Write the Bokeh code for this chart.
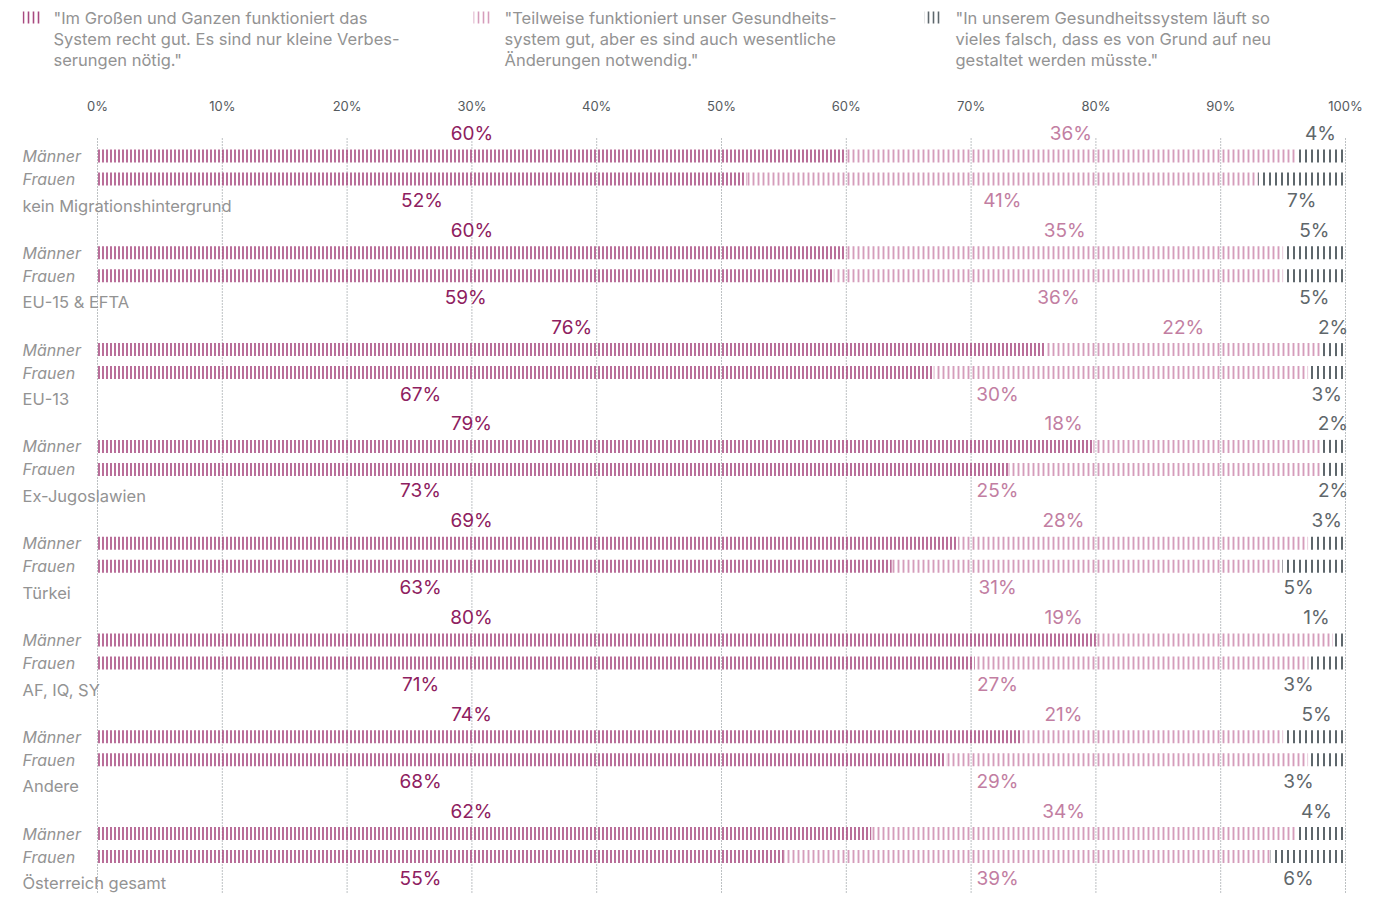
from bokeh.plotting import figure
from bokeh.models import Range1d
from bokeh.embed import file_html
from bokeh.resources import INLINE
from bokeh.core.properties import value

# ---------------- data ----------------
groups = ["kein Migrationshintergrund", "EU-15 & EFTA", "EU-13", "Ex-Jugoslawien",
          "Türkei", "AF, IQ, SY", "Andere", "Österreich gesamt"]
men_good = [60, 60, 76, 79, 69, 80, 74, 62]
men_partly = [36, 35, 22, 18, 28, 19, 21, 34]
men_bad = [4, 5, 2, 2, 3, 1, 5, 4]
women_good = [52, 59, 67, 73, 63, 71, 68, 55]
women_partly = [41, 36, 30, 25, 31, 27, 29, 39]
women_bad = [7, 5, 3, 2, 5, 3, 3, 6]
sex_labels = ["Männer", "Frauen"]
tick_values = [0, 10, 20, 30, 40, 50, 60, 70, 80, 90, 100]
tick_labels = [f"{t}%" for t in tick_values]
legend_texts = [
    ['"Im Großen und Ganzen funktioniert das',
     'System recht gut. Es sind nur kleine Verbes-',
     'serungen nötig."'],
    ['"Teilweise funktioniert unser Gesundheits-',
     'system gut, aber es sind auch wesentliche',
     'Änderungen notwendig."'],
    ['"In unserem Gesundheitssystem läuft so',
     'vieles falsch, dass es von Grund auf neu',
     'gestaltet werden müsste."'],
]

# ---------------- style / layout ----------------
FONT = value("Inter")
HATCH = ["#a84a80", "#d59dbb", "#5e676c"]
LABEL = ["#8e2060", "#c27ea2", "#5f676b"]
HSCALE = [4, 5, 6]
HWEIGHT = [1.6, 1.9, 2]
GRAY_TXT = "#939393"

W, H = 1376, 893
X0_PX, PX_PER_PCT = 97, 12.48          # px of 0 %, px per %
XMIN = -X0_PX / PX_PER_PCT
XMAX = XMIN + W / PX_PER_PCT
G0, GSTEP = 167, 96.8                 # group centre (px) and spacing


def X(px):
    return (px - X0_PX) / PX_PER_PCT


MEN_ANCHOR = [X(471), X(1063), X(1316)]
WOMEN_ANCHOR = [X(420), X(997), X(1298)]
CENTERED = {(0, 0, 0), (0, 0, 1), (0, 0, 2), (0, 1, 0), (0, 1, 1), (0, 1, 2),
            (1, 0, 0), (1, 0, 1), (1, 0, 2), (1, 1, 0), (1, 1, 1), (1, 1, 2),
            (2, 0, 0), (2, 0, 1), (2, 0, 2), (2, 1, 2), (3, 0, 2), (3, 1, 2), (4, 0, 2)}

p = figure(width=W, height=H, x_range=Range1d(XMIN, XMAX), y_range=Range1d(H, 0),
           output_backend="svg", toolbar_location=None, min_border=0,
           x_axis_location=None, y_axis_location=None, outline_line_color=None)
p.grid.visible = False
p.background_fill_color = "white"
p.border_fill_color = "white"

# grid lines
p.segment(x0=tick_values, x1=tick_values, y0=[138] * len(tick_values), y1=[H] * len(tick_values),
          line_color="#7b8287", line_width=1, line_dash="1 2")

# tick labels
p.text(x=tick_values, y=[105] * len(tick_values), text=tick_labels, text_font=FONT,
       text_font_size="13px", text_color="#555a5e", text_align="center", text_baseline="middle")

# legend
leg_icon_px = [(22, 40), (473, 490), (924, 941)]
leg_text_px = [53, 504, 955]
for k in range(3):
    p.hbar(y=[17], left=[X(leg_icon_px[k][0])], right=[X(leg_icon_px[k][1])], height=12,
           fill_alpha=0, line_alpha=0, hatch_pattern="vertical_line", hatch_color=HATCH[k],
           hatch_scale=5, hatch_weight=1.6)
    p.text(x=[X(leg_text_px[k])] * 3, y=[17, 38, 59], text=legend_texts[k], text_font=FONT,
           text_font_size="16.5px", text_color=GRAY_TXT, text_align="left", text_baseline="middle")

series = [(men_good, men_partly, men_bad), (women_good, women_partly, women_bad)]
bar_off = [-11.5, 11.5]
lab_off = [-34.0, 33.0]
anchors = [MEN_ANCHOR, WOMEN_ANCHOR]

for gi, g in enumerate(groups):
    c = G0 + GSTEP * gi
    for si in range(2):
        vals = [series[si][k][gi] for k in range(3)]
        total = sum(vals)
        edges = [0]
        for v in vals:
            edges.append(edges[-1] + v * 100.0 / total)
        yb = c + bar_off[si]
        for k in range(3):
            p.hbar(y=[yb], left=[edges[k]], right=[edges[k + 1]], height=13,
                   fill_alpha=0, line_alpha=0, hatch_pattern="vertical_line",
                   hatch_color=HATCH[k], hatch_scale=HSCALE[k], hatch_weight=HWEIGHT[k])
            lx = (edges[k] + edges[k + 1]) / 2 if (gi, si, k) in CENTERED else anchors[si][k]
            p.text(x=[lx], y=[c + lab_off[si]], text=[f"{vals[k]}%"], text_font=FONT,
                   text_font_size="19px", text_color=LABEL[k], text_align="center",
                   text_baseline="middle")
        p.text(x=[X(22)], y=[yb], text=[sex_labels[si]], text_font=FONT, text_font_size="16px",
               text_font_style="italic", text_color=GRAY_TXT, text_align="left",
               text_baseline="middle")
    p.text(x=[X(22)], y=[c + 38], text=[g], text_font=FONT, text_font_size="16.5px",
           text_color=GRAY_TXT, text_align="left", text_baseline="middle")

open("out.html", "w").write(file_html(p, INLINE))
